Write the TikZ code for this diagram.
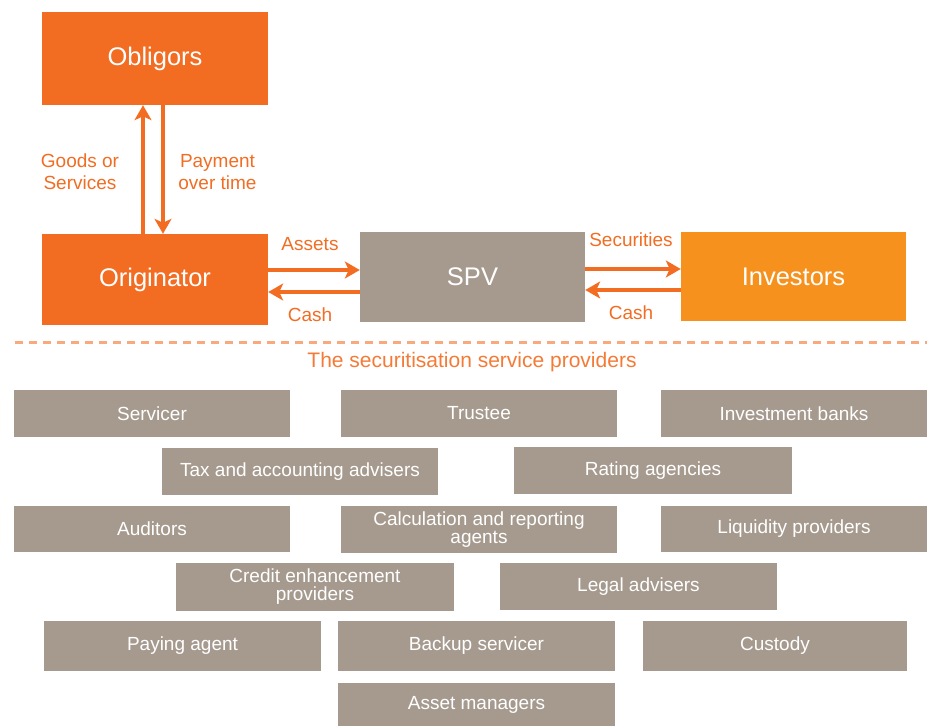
\documentclass[tikz,border=0pt]{standalone}
\usepackage{fontspec}
\setmainfont{Liberation Sans}
\usetikzlibrary{arrows.meta}
\definecolor{dorange}{HTML}{F26C22}
\definecolor{lorange}{HTML}{F7911E}
\definecolor{sgray}{HTML}{A69A8F}
\definecolor{dashcol}{HTML}{F8A97E}
\definecolor{titlecol}{HTML}{F47A36}
\tikzset{
  bigbox/.style={inner sep=0pt, text=white, font=\fontsize{25.5}{28}\selectfont, align=center},
  gbox/.style={fill=sgray, inner sep=0pt, text=white, font=\fontsize{19}{18.5}\selectfont, align=center},
  flowlbl/.style={text=dorange, font=\fontsize{19}{22}\selectfont, align=center, inner sep=0pt},
  arr/.style={draw=dorange, line width=3.5pt, -{Stealth[length=15pt,width=17pt,inset=4pt]}},
}
\begin{document}
\begin{tikzpicture}[x=1pt,y=-1pt]
\useasboundingbox (0,0) rectangle (927,726);
% main flow boxes
\node[bigbox, fill=dorange, minimum width=226pt, minimum height=93pt] (obl) at (155,58.5) {\raisebox{-3pt}{Obligors}};
\node[bigbox, fill=dorange, minimum width=226pt, minimum height=91pt] (orig) at (155,279.5) {\raisebox{-3pt}{Originator}};
\node[bigbox, fill=sgray, minimum width=225pt, minimum height=90pt] (spv) at (472.5,277) {SPV};
\node[bigbox, fill=lorange, minimum width=225pt, minimum height=89pt] (inv) at (793.5,276.5) {\raisebox{-3pt}{Investors}};
% arrows
\draw[arr] ([xshift=-12pt]orig.north) -- ([xshift=-12pt]obl.south);
\draw[arr] ([xshift=8pt]obl.south) -- ([xshift=8pt]orig.north);
\draw[arr] ([yshift=9.5pt]orig.east) -- ([yshift=9.5pt]orig.east -| spv.west);
\draw[arr] ([yshift=-12.5pt]orig.east -| spv.west) -- ([yshift=-12.5pt]orig.east);
\draw[arr] ([yshift=8pt]spv.east) -- ([yshift=8pt]spv.east -| inv.west);
\draw[arr] ([yshift=-13pt]spv.east -| inv.west) -- ([yshift=-13pt]spv.east);
% flow labels
\node[flowlbl] (lgoods) at (80,172) {Goods or\\Services};
\node[flowlbl] (lpay) at (217.5,172) {Payment\\over time};
\node[flowlbl] (lassets) at (310,244) {Assets};
\node[flowlbl] (lcash1) at (310,315) {Cash};
\node[flowlbl] (lsec) at (631,240) {Securities};
\node[flowlbl] (lcash2) at (631,313) {Cash};
% dashed separator
\coordinate (dl) at (15,342);
\coordinate (dr) at (927,342);
\draw[dashcol, line width=3pt, dash pattern=on 8pt off 6pt] (dl) -- (dr);
\node[text=titlecol, font=\fontsize{21}{24}\selectfont, inner sep=0pt] (title) at (472,362) {The securitisation service providers};
% service providers
\node[gbox, minimum width=276pt, minimum height=47pt] (servicer) at (152,413.5) {Servicer};
\node[gbox, minimum width=276pt, minimum height=47pt] (trustee) at (479,413.5) {Trustee};
\node[gbox, minimum width=266pt, minimum height=47pt] (invbank) at (794,413.5) {Investment banks};
\node[gbox, minimum width=276pt, minimum height=47pt] (tax) at (300,471.5) {Tax and accounting advisers};
\node[gbox, minimum width=278pt, minimum height=47pt] (rating) at (653,470.5) {Rating agencies};
\node[gbox, minimum width=276pt, minimum height=46pt] (auditors) at (152,529) {Auditors};
\node[gbox, minimum width=276pt, minimum height=47pt] (calc) at (479,529.5) {Calculation and reporting\\agents};
\node[gbox, minimum width=266pt, minimum height=46pt] (liq) at (794,529) {Liquidity providers};
\node[gbox, minimum width=278pt, minimum height=48pt] (credit) at (315,586.5) {Credit enhancement\\providers};
\node[gbox, minimum width=277pt, minimum height=47pt] (legal) at (638.5,586.5) {Legal advisers};
\node[gbox, minimum width=277pt, minimum height=50pt] (paying) at (182.5,645.5) {\raisebox{4pt}{Paying agent}};
\node[gbox, minimum width=277pt, minimum height=50pt] (backup) at (476.5,645.5) {Backup servicer};
\node[gbox, minimum width=264pt, minimum height=50pt] (custody) at (775,646) {\raisebox{5pt}{Custody}};
\node[gbox, minimum width=277pt, minimum height=43pt] (assetm) at (476.5,704.5) {\raisebox{3pt}{Asset managers}};
\end{tikzpicture}
\end{document}
